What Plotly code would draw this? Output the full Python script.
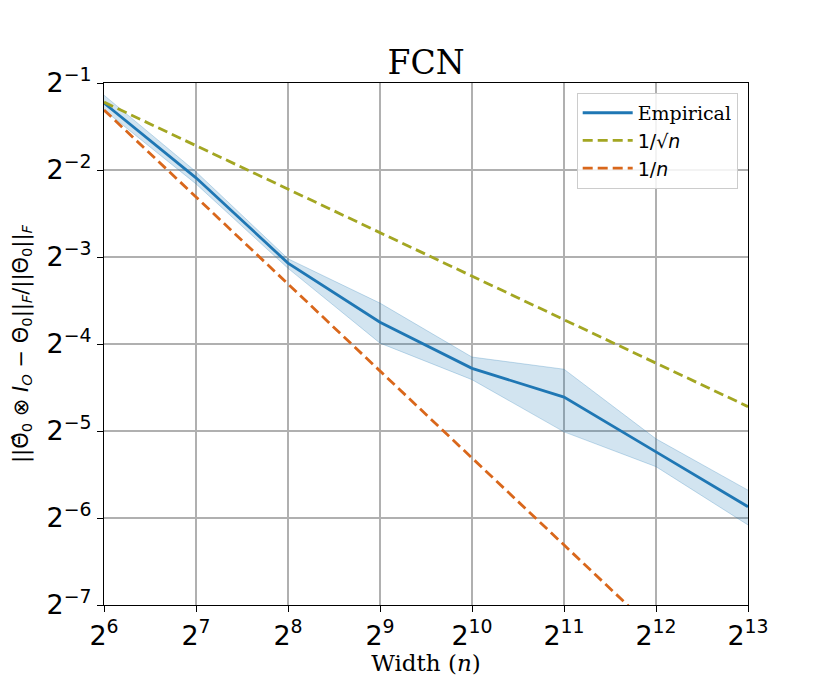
import plotly.graph_objects as go

# widths (powers of two) and log2 of the measured ratio
widths = [2**6, 2**7, 2**8, 2**9, 2**10, 2**11, 2**12, 2**13]
emp_log2 = [-1.23, -2.09, -3.07, -3.75, -4.28, -4.61, -5.24, -5.87]
emp_hi_log2 = [-1.14, -2.02, -3.02, -3.53, -4.15, -4.29, -5.09, -5.68]
emp_lo_log2 = [-1.31, -2.16, -3.13, -3.99, -4.41, -5.01, -5.41, -6.08]
sqrt_log2 = [-1.22, -1.72, -2.22, -2.72, -3.22, -3.72, -4.22, -4.72]
inv_log2 = [-1.31, -2.31, -3.31, -4.31, -5.31, -6.31, -7.31, -8.31]

x_ticks = [6, 7, 8, 9, 10, 11, 12, 13]
y_ticks = [-7, -6, -5, -4, -3, -2, -1]

emp = [2**v for v in emp_log2]
emp_hi = [2**v for v in emp_hi_log2]
emp_lo = [2**v for v in emp_lo_log2]
sqrt_ref = [2**v for v in sqrt_log2]
inv_ref = [2**v for v in inv_log2]

BLUE = "#1f77b4"
OLIVE = "#a3a622"
ORANGE = "#d9671b"
SANS = "DejaVu Sans"
SERIF = "DejaVu Serif"

fig = go.Figure()

# shaded band
fig.add_trace(go.Scatter(x=widths, y=emp_lo, mode="lines",
                         line=dict(color="rgba(31,119,180,0.25)", width=1),
                         showlegend=False, hoverinfo="skip"))
fig.add_trace(go.Scatter(x=widths, y=emp_hi, mode="lines", fill="tonexty",
                         fillcolor="rgba(31,119,180,0.2)",
                         line=dict(color="rgba(31,119,180,0.25)", width=1),
                         showlegend=False, hoverinfo="skip"))

fig.add_trace(go.Scatter(x=widths, y=emp, mode="lines", name="Empirical",
                         line=dict(color=BLUE, width=2.8)))
fig.add_trace(go.Scatter(x=widths, y=sqrt_ref, mode="lines",
                         name=f'<span style="font-family:{SANS}">1/√<i>n</i></span>',
                         line=dict(color=OLIVE, width=2.8, dash="10px,5px")))
fig.add_trace(go.Scatter(x=widths, y=inv_ref, mode="lines",
                         name=f'<span style="font-family:{SANS}">1/<i>n</i></span>',
                         line=dict(color=ORANGE, width=2.8, dash="10px,5px")))

y_title = ("||Θ̂<sub>0</sub> ⊗ <i>I</i><sub><i>O</i></sub> − Θ<sub>0</sub>||<sub><i>F</i></sub>"
           "/||Θ<sub>0</sub>||<sub><i>F</i></sub>")

axis_common = dict(
    type="log",
    tickfont=dict(family=SANS, size=27),
    showgrid=True, gridcolor="#b0b0b0", gridwidth=1.5,
    showline=True, mirror=True, linecolor="black", linewidth=1.2,
    ticks="outside", ticklen=6, tickcolor="black", tickwidth=1.2,
    zeroline=False,
)

fig.update_layout(
    width=830, height=692,
    margin=dict(l=96, r=90, t=75, b=95),
    paper_bgcolor="white", plot_bgcolor="white",
    font=dict(family=SANS, color="black"),
    title=dict(text="FCN", x=0.5, xref="paper", xanchor="center",
               y=1 - 54 / 692, yanchor="middle",
               font=dict(family=SERIF, size=33, color="black")),
    legend=dict(x=0.984, y=0.981, xanchor="right", yanchor="top",
                traceorder="normal",
                bgcolor="rgba(255,255,255,0.85)", bordercolor="#cccccc",
                borderwidth=1, font=dict(family=SERIF, size=19),
                itemwidth=50, tracegroupgap=2),
    xaxis=dict(
        axis_common,
        range=[6 * 0.30103, 13 * 0.30103],
        tickvals=[2**t for t in x_ticks],
        ticktext=[f"2<sup>{t}</sup>" for t in x_ticks],
        title=dict(text="Width (<i>n</i>)", font=dict(family=SERIF, size=23),
                   standoff=4),
    ),
    yaxis=dict(
        axis_common,
        range=[-7 * 0.30103, -1 * 0.30103],
        tickvals=[2.0**t for t in y_ticks],
        ticktext=[f"2<sup>−{-t}</sup>" for t in y_ticks],
        title=dict(text=y_title, font=dict(family=SANS, size=21), standoff=12),
    ),
)

fig.write_html("out.html")
